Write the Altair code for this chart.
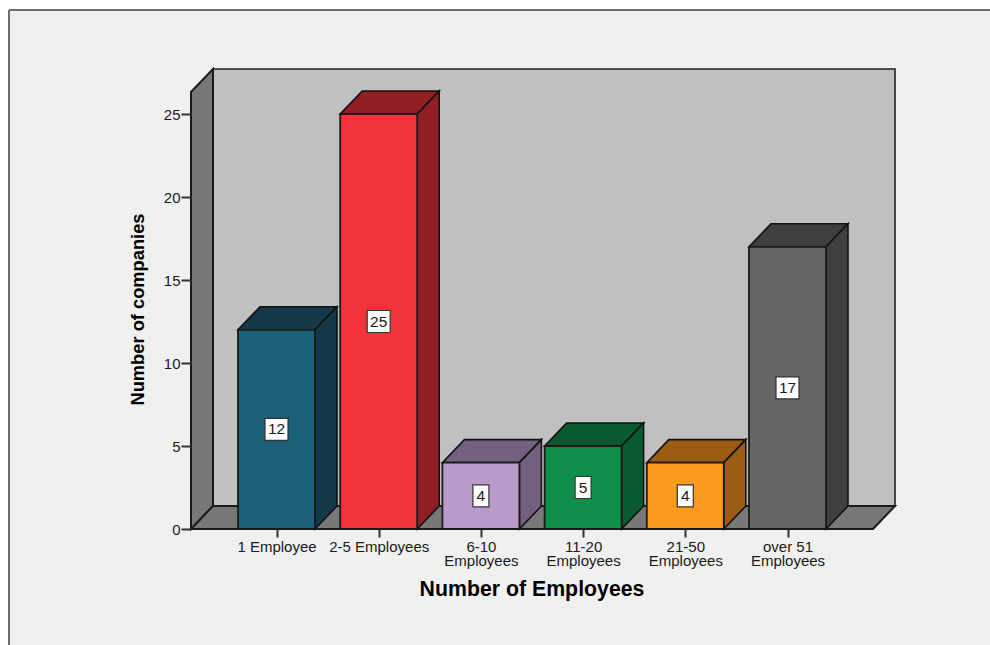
import json
import altair as alt
import pandas as pd

# Survey counts by company size
categories = ["1 Employee", "2-5 Employees", "6-10\nEmployees", "11-20\nEmployees", "21-50\nEmployees", "over 51\nEmployees"]
counts = [12, 25, 4, 5, 4, 17]
front_colors = ["#1c5f78", "#f2343a", "#b89acb", "#0f8e4a", "#fd9a1e", "#666666"]
shade_colors = ["#14394a", "#8f1f24", "#73607f", "#0a5a2f", "#9a5d12", "#3f3f3f"]
y_ticks = [0, 5, 10, 15, 20, 25]

# Plot area in pixels and the pixels per data unit on each axis
WIDTH, HEIGHT = 704, 460
PAD_L, PAD_T = 191, 69
PX_X, PX_Y = 102.2, 16.6
X_MIN = -85.5 / PX_X
X_MAX = X_MIN + WIDTH / PX_X
Y_MAX = HEIGHT / PX_Y
DX, DY = 22 / PX_X, 23 / PX_Y  # oblique depth of the box in data units
HALF = 38.5 / PX_X             # half the width of a bar

FONT = "Liberation Sans"
INK = "#1a1a1a"

xs = alt.Scale(domain=[X_MIN, X_MAX], nice=False, zero=False)
ys = alt.Scale(domain=[0, Y_MAX], nice=False, zero=False)


def X(field, **kw):
    return alt.X(field, type="quantitative", scale=xs, axis=None, **kw)


def Y(field, **kw):
    return alt.Y(field, type="quantitative", scale=ys, axis=None, **kw)


one = pd.DataFrame({"a": [0]})

# Sheet behind the chart, with its darker top and left edges
sheet = alt.Chart(one).mark_rect(fill="#f0f0f0").encode(
    x=alt.value(9 - PAD_L), x2=alt.value(990 - PAD_L),
    y=alt.value(10 - PAD_T), y2=alt.value(645 - PAD_T),
)
edge_top = alt.Chart(one).mark_rule(color="#6e6e6e", strokeWidth=2).encode(
    x=alt.value(9 - PAD_L), x2=alt.value(990 - PAD_L), y=alt.value(10 - PAD_T),
)
edge_left = alt.Chart(one).mark_rule(color="#6e6e6e", strokeWidth=2).encode(
    x=alt.value(9 - PAD_L), y=alt.value(10 - PAD_T), y2=alt.value(645 - PAD_T),
)

# Box walls: back, left and floor
back = alt.Chart(pd.DataFrame({"x": [X_MIN + DX], "x2": [X_MAX], "y": [DY], "y2": [Y_MAX]})).mark_rect(
    fill="#c0c0c0", stroke="#222222", strokeWidth=1.6
).encode(x=X("x"), x2="x2", y=Y("y"), y2="y2")

wall_top = Y_MAX - DY
left_wall = alt.Chart(pd.DataFrame({
    "x": [X_MIN, X_MIN + DX], "y": [0, DY], "y2": [wall_top, Y_MAX],
})).mark_area(fill="#787878", stroke="#1a1a1a", strokeWidth=2).encode(x=X("x"), y=Y("y"), y2="y2")

floor = alt.Chart(pd.DataFrame({
    "x": [X_MIN, X_MIN + DX, X_MAX - DX, X_MAX], "y": [0, 0, 0, DY], "y2": [0, DY, DY, DY],
})).mark_area(fill="#787878", stroke="#1a1a1a", strokeWidth=2).encode(x=X("x"), y=Y("y"), y2="y2")

# Axes only, no marks of their own; drawn above the sheet
label_lines = [c.split("\n") for c in categories]
axes = alt.Chart(pd.DataFrame({"i": list(range(len(counts))), "v": y_ticks})).mark_point(opacity=0).encode(
    x=alt.X("i:Q", scale=xs, axis=alt.Axis(
        values=list(range(len(counts))), title="Number of Employees", domain=False, grid=False, zindex=1,
        tickSize=8, tickWidth=2, tickColor="#333333",
        labelExpr=json.dumps(label_lines) + "[datum.value]",
        labelFont=FONT, labelFontSize=15, labelColor=INK, labelLineHeight=14.5, labelPadding=2,
        labelOverlap=False, labelFlush=False,
        titleFont=FONT, titleFontSize=21.3, titleFontWeight="bold", titleColor="#000000",
        titleX=340.5, titleY=49,
    )),
    y=alt.Y("v:Q", scale=ys, axis=alt.Axis(
        values=y_ticks, title="Number of companies", domain=False, grid=False, zindex=1,
        tickSize=10, tickWidth=2, tickColor="#333333",
        labelFont=FONT, labelFontSize=15, labelColor=INK, labelPadding=1,
        titleFont=FONT, titleFontSize=18.3, titleFontWeight="bold", titleColor="#000000",
        titleX=-44, titleY=240,
    )),
)

# Each bar's top and side faces as sheared areas, one row per outline vertex
tops, sides, fronts, boxes = [], [], [], []
for i, (v, c) in enumerate(zip(counts, categories)):
    l, r = i - HALF, i + HALF
    key = c
    tops += [
        {"k": key, "x": l, "y": v, "y2": v, "c": shade_colors[i]},
        {"k": key, "x": l + DX, "y": v, "y2": v + DY, "c": shade_colors[i]},
        {"k": key, "x": r, "y": v, "y2": v + DY, "c": shade_colors[i]},
        {"k": key, "x": r + DX, "y": v + DY, "y2": v + DY, "c": shade_colors[i]},
    ]
    sides += [
        {"k": key, "x": r, "y": 0, "y2": v, "c": shade_colors[i]},
        {"k": key, "x": r + DX, "y": DY, "y2": v + DY, "c": shade_colors[i]},
    ]
    fronts.append({"x": l, "x2": r, "y": 0, "y2": v, "c": front_colors[i]})
    boxes.append({"x": i, "y": v / 2, "t": str(v), "wide": v >= 10})

no_scale = alt.Color("c:N", scale=None)


def faces(rows):
    return alt.Chart(pd.DataFrame(rows)).mark_area(
        stroke="#111111", strokeWidth=1.6, strokeJoin="miter"
    ).encode(x=X("x"), y=Y("y"), y2="y2", color=no_scale, detail="k:N")


front = alt.Chart(pd.DataFrame(fronts)).mark_rect(stroke="#1a1a1a", strokeWidth=1.8).encode(
    x=X("x"), x2="x2", y=Y("y"), y2="y2", color=no_scale
)

box_df = pd.DataFrame(boxes)
box_wide = alt.Chart(box_df[box_df.wide]).mark_rect(
    width=23, height=22, fill="#ffffff", stroke="#333333", strokeWidth=1.2
).encode(x=X("x"), y=Y("y"))
box_narrow = alt.Chart(box_df[~box_df.wide]).mark_rect(
    width=16, height=22, fill="#ffffff", stroke="#333333", strokeWidth=1.2
).encode(x=X("x"), y=Y("y"))
value_text = alt.Chart(box_df).mark_text(
    font=FONT, fontSize=15.5, color=INK, align="center", baseline="middle"
).encode(x=X("x"), y=Y("y"), text="t:N")

chart = alt.layer(
    sheet, edge_top, edge_left, back, left_wall, floor, axes,
    faces(tops), faces(sides), front, box_wide, box_narrow, value_text,
).resolve_axis(x="independent", y="independent").properties(
    width=WIDTH, height=HEIGHT,
    autosize="none",
    padding={"left": PAD_L, "top": PAD_T, "right": 990 - PAD_L - WIDTH, "bottom": 645 - PAD_T - HEIGHT},
    background="#ffffff",
).configure_view(stroke=None)

chart.save("out.html", embed_options={"renderer": "svg", "actions": False})
